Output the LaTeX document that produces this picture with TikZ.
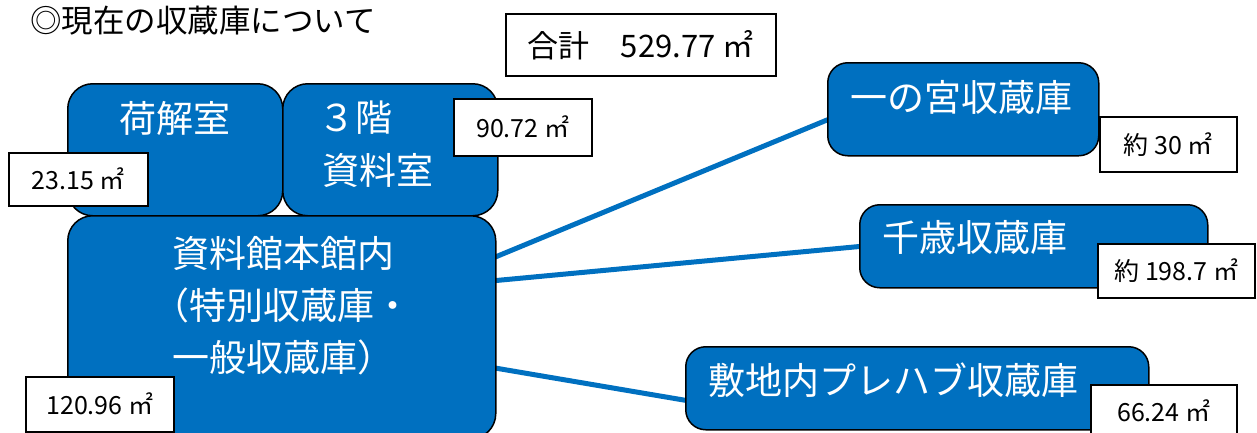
\documentclass[tikz,border=0pt]{standalone}
\usepackage{fontspec}
\setmainfont{Noto Sans CJK JP}
\usetikzlibrary{backgrounds}
\definecolor{boxblue}{HTML}{0070C0}
\tikzset{
  bluebox/.style={draw=black, line width=1.5pt, fill=boxblue, rounded corners=25pt, anchor=north west, inner sep=0pt},
  wtext/.style={text=white, font=\fontsize{37}{44}\selectfont, inner sep=0pt},
  areabox/.style={draw=black, line width=1.5pt, fill=white, inner sep=0pt, anchor=north west, font=\fontsize{25}{30}\selectfont},
  link/.style={draw=boxblue, line width=5pt}
}
\begin{document}
\begin{tikzpicture}[x=1pt,y=-1pt]
\useasboundingbox (0,0) rectangle (1257,432);
\clip (0,0) rectangle (1257,432);
% title
\node[anchor=west, inner sep=0pt, font=\fontsize{31.5}{36}\selectfont] (title) at (30,21) {◎現在の収蔵庫について};
% blue boxes
\node[bluebox, minimum width=215pt, minimum height=132pt] (niage) at (67,83) {};
\node[bluebox, minimum width=215pt, minimum height=132pt] (shiryo3) at (282,83) {};
\node[bluebox, minimum width=428pt, minimum height=223pt] (honkan) at (67,215) {};
\node[bluebox, rounded corners=20pt, minimum width=271pt, minimum height=93pt] (ichinomiya) at (827,62) {};
\node[bluebox, rounded corners=20pt, minimum width=348pt, minimum height=83pt] (chitose) at (859,204) {};
\node[bluebox, rounded corners=20pt, minimum width=463pt, minimum height=83pt] (prefab) at (685,346) {};
% texts in blue boxes
\node[wtext] (niageT) at (175,118) {荷解室};
\node[wtext, anchor=west] (shiryo3A) at (318,118) {３階};
\node[wtext, anchor=west] (shiryo3B) at (322,170) {資料室};
\node[wtext, anchor=west] (honkanA) at (172,253) {資料館本館内};
\node[wtext, anchor=west] (honkanB) at (152,305) {（特別収蔵庫・};
\node[wtext, anchor=west] (honkanC) at (172,357) {一般収蔵庫）};
\node[wtext, anchor=west] (ichinomiyaT) at (850,97) {一の宮収蔵庫};
\node[wtext, anchor=west] (chitoseT) at (882,237) {千歳収蔵庫};
\node[wtext, anchor=west] (prefabT) at (708,380) {敷地内プレハブ収蔵庫};
% connectors
\begin{scope}[on background layer]
\draw[link] ([yshift=69.5pt,xshift=-3pt]honkan.east) -- ([yshift=-9.5pt,xshift=3pt]ichinomiya.west);
\draw[link] ([yshift=46.5pt,xshift=-3pt]honkan.east) -- ([xshift=3pt]chitose.west);
\draw[link] ([yshift=-40.5pt,xshift=-3pt]honkan.east) -- ([yshift=-12.5pt,xshift=3pt]prefab.west);
\end{scope}
% area boxes
\node[areabox, minimum width=270pt, minimum height=62pt, font=\fontsize{31}{36}\selectfont] (total) at (505,13) {合計　529.77 ㎡};
\node[areabox, minimum width=139pt, minimum height=53pt] (a23) at (8,152) {23.15 ㎡};
\node[areabox, minimum width=138pt, minimum height=57pt] (a90) at (453,98) {90.72 ㎡};
\node[areabox, minimum width=148pt, minimum height=55pt] (a120) at (25,376) {120.96 ㎡};
\node[areabox, minimum width=137pt, minimum height=55pt] (a30) at (1099,116) {約 30 ㎡};
\node[areabox, minimum width=157pt, minimum height=54pt] (a198) at (1097,243) {約 198.7 ㎡};
\node[areabox, minimum width=146pt, minimum height=52pt] (a66) at (1090,384) {66.24 ㎡};
\end{tikzpicture}
\end{document}
